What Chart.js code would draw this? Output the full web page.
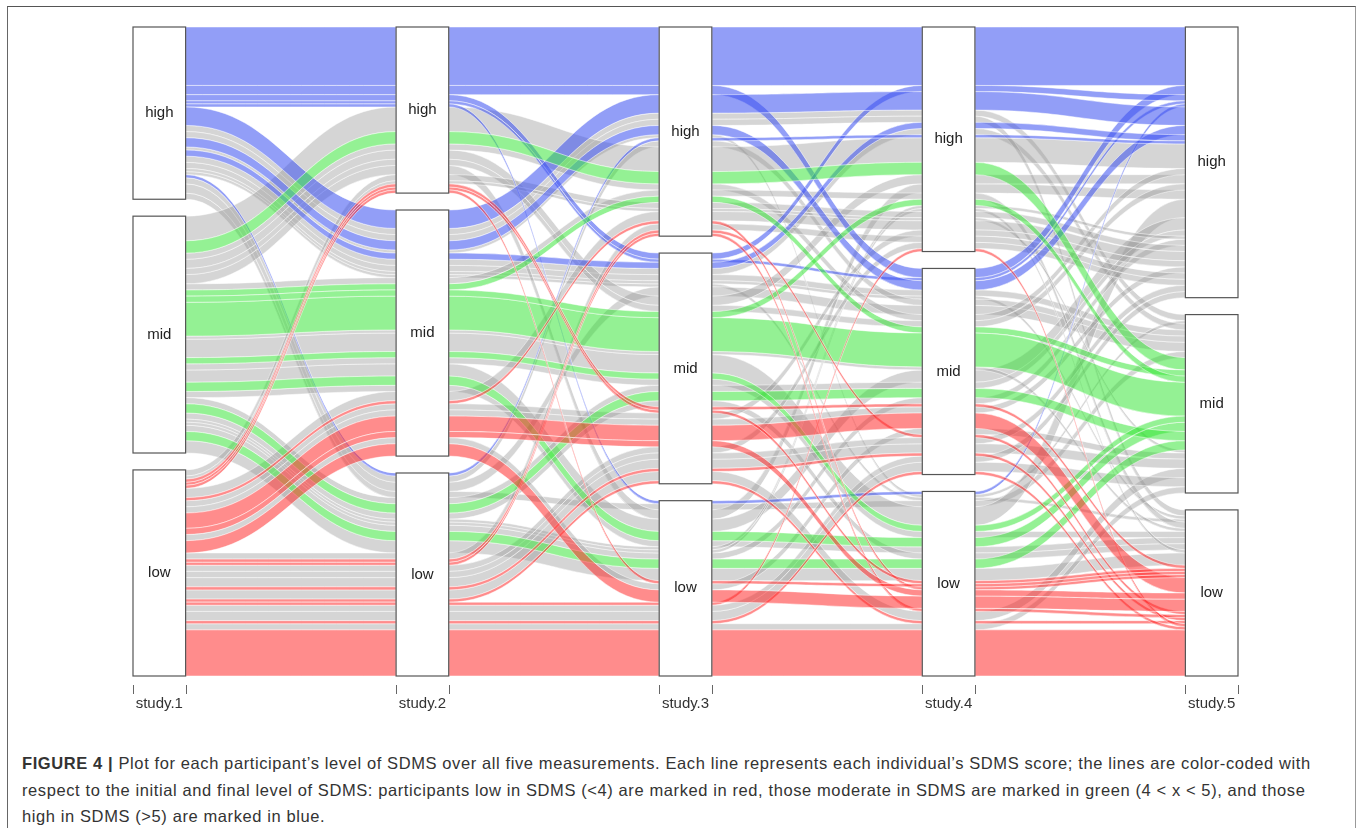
<!DOCTYPE html>
<html>
<head>
<meta charset="utf-8">
<script src="https://cdn.jsdelivr.net/npm/chart.js@4.4.1/dist/chart.umd.min.js"></script>
<style>
    html, body { margin: 0; padding: 0; background: #fff; }
    #frame { position: absolute; left: 7px; top: 6px; width: 1349px; height: 822px; box-sizing: border-box;
             border-top: 1.5px solid #555; border-left: 1.5px solid #666; border-right: 1.5px solid #999; }
    #wrap { position: absolute; left: 0; top: 0; width: 1357px; height: 740px; }
    #caption { position: absolute; left: 22px; top: 750px; font-family: 'Liberation Sans', Arial, sans-serif;
               font-size: 16.5px; letter-spacing: 0.6px; line-height: 26.5px; color: #333; }
    #caption div { white-space: nowrap; }
</style>
</head>
<body>
<div id="frame"></div>
<div id="wrap"><canvas id="alluvialChart"></canvas></div>
<div id="caption">
    <div><b>FIGURE 4 |</b> Plot for each participant’s level of SDMS over all five measurements. Each line represents each individual’s SDMS score; the lines are color-coded with</div>
    <div>respect to the initial and final level of SDMS: participants low in SDMS (&lt;4) are marked in red, those moderate in SDMS are marked in green (4 &lt; x &lt; 5), and those</div>
    <div>high in SDMS (&gt;5) are marked in blue.</div>
</div>
<script>
// axes and strata
const studies = ['study.1', 'study.2', 'study.3', 'study.4', 'study.5'];
const levels = { H: 'high', M: 'mid', L: 'low' };

// each alluvium: level at study.1..study.5 (H/M/L) and number of participants
const paths = [
    // high -> high (blue)
    'HHHHH', 'HHHMH', 'HHMHH', 'HHMMH', 'HHLLH', 'HMHHH', 'HMHMH', 'HMMHH', 'HLHHH',
    // mid -> mid (green)
    'MHHHM', 'MMHMM', 'MMMMM', 'MMMHM', 'MMLLM', 'MLLLM', 'MLMMM', 'MMMLM',
    // low -> low (red)
    'LLLLL', 'LLMLL', 'LLLML', 'LLMML', 'LLHLL', 'LLLHL', 'LLHML', 'LMMML', 'LMLLL', 'LMHLL', 'LMMLL', 'LHMLL', 'LHLLL', 'LHMML',
    // changed (grey)
    'HMMMM', 'HMHHM', 'HMHLM', 'HMMHM', 'HMMLL', 'HMHHL', 'HMMML', 'HLLLM', 'HLMMM', 'HLHMM',
    'MHHHH', 'MHLHH', 'MHMHH', 'MHHMH', 'MHMMH', 'MMMLH', 'MMLMH', 'MMMML', 'MMMLL', 'MMLLL', 'MMHHL',
    'MLLLL', 'MLMMH', 'MLLMH', 'MLMLL', 'MLLHH', 'MLLHL',
    'LHHHH', 'LHHHM', 'LMHHH', 'LMMHH', 'LMMMH', 'LMLMM', 'LLMMM', 'LLMLM', 'LLLMM', 'LLMHH', 'LLLLM', 'LLHHH', 'LLLMH', 'LLMMH'
];
const counts = [
    19, 3, 2, 1, 1, 6, 3, 2, 1,
    4, 2, 11, 2, 3, 3, 3, 2,
    15, 1, 1, 1, 1, 1, 1, 5, 4, 1, 2, 1, 1, 1,
    2, 2, 1, 2, 1, 2, 1, 2, 3, 2,
    8, 3, 3, 2, 2, 6, 4, 1, 2, 2, 2,
    4, 2, 2, 2, 1, 1,
    2, 1, 3, 2, 2, 2, 3, 3, 3, 2, 2, 2, 2, 2
];

const rank = { H: 0, M: 1, L: 2 };
const gap = 5.5;
const total = counts.reduce((a, b) => a + b, 0);

function flowColor(p) {
    if (p[0] !== p[p.length - 1]) return 'rgba(150,150,150,0.40)';
    return { H: 'rgba(60,82,240,0.56)', M: 'rgba(50,228,50,0.52)', L: 'rgba(255,35,35,0.52)' }[p[0]];
}

// stack alluvia on every axis: by level here, then by the other axes in order
const pos = paths.map(() => []);
const strata = [];
studies.forEach((s, i) => {
    const keys = [i, ...studies.map((_, k) => k).filter(k => k !== i)];
    const order = paths.map((_, k) => k).sort((a, b) => {
        for (const k of keys) {
            const d = rank[paths[a][k]] - rank[paths[b][k]];
            if (d) return d;
        }
        return 0;
    });
    let y = 0, cur = null;
    const st = [];
    order.forEach(k => {
        const l = paths[k][i];
        if (l !== cur) {
            if (cur !== null) { st[st.length - 1].end = y; y += gap; }
            st.push({ level: l, start: y });
            cur = l;
        }
        pos[k][i] = [y, y + counts[k]];
        y += counts[k];
    });
    st[st.length - 1].end = y;
    strata.push(st);
});

const alluvialPlugin = {
    id: 'alluvial',
    beforeDatasetsDraw(chart) {
        const ctx = chart.ctx;
        const xs = chart.scales.x, ys = chart.scales.y;
        const Y = v => ys.getPixelForValue(v);
        const drawOrder = paths.map((_, k) => k).sort((a, b) => {
            const ga = paths[a][0] !== paths[a][4] ? 0 : 1;
            const gb = paths[b][0] !== paths[b][4] ? 0 : 1;
            return ga - gb;
        });
        ctx.save();
        drawOrder.forEach(k => {
            ctx.fillStyle = flowColor(paths[k]);
            ctx.strokeStyle = 'rgba(255,255,255,0.55)';
            ctx.lineWidth = 0.9;
            for (let i = 0; i < studies.length - 1; i++) {
                const x0 = xs.getPixelForValue(i + 0.1), x1 = xs.getPixelForValue(i + 0.9);
                const [a0, a1] = pos[k][i];
                const [b0, b1] = pos[k][i + 1];
                const c = (x1 - x0) * 0.45;
                ctx.beginPath();
                ctx.moveTo(x0, Y(a0));
                ctx.bezierCurveTo(x0 + c, Y(a0), x1 - c, Y(b0), x1, Y(b0));
                ctx.lineTo(x1, Y(b1));
                ctx.bezierCurveTo(x1 - c, Y(b1), x0 + c, Y(a1), x0, Y(a1));
                ctx.closePath();
                ctx.fill();
                ctx.stroke();
            }
        });

        // strata boxes
        ctx.font = '15px "Liberation Sans", Arial, sans-serif';
        ctx.textAlign = 'center';
        ctx.textBaseline = 'middle';
        strata.forEach((st, i) => {
            const xl = xs.getPixelForValue(i - 0.1), xr = xs.getPixelForValue(i + 0.1);
            st.forEach(b => {
                ctx.fillStyle = '#fff';
                ctx.fillRect(xl, Y(b.start), xr - xl, Y(b.end) - Y(b.start));
                ctx.strokeStyle = '#555';
                ctx.lineWidth = 1.2;
                ctx.strokeRect(xl, Y(b.start), xr - xl, Y(b.end) - Y(b.start));
                ctx.fillStyle = '#222';
                ctx.fillText(levels[b.level], (xl + xr) / 2, (Y(b.start) + Y(b.end)) / 2);
            });
            // axis ticks at the box edges
            ctx.strokeStyle = '#666';
            ctx.lineWidth = 1;
            const yb = chart.chartArea.bottom;
            [xl, xr].forEach(x => {
                ctx.beginPath();
                ctx.moveTo(Math.round(x) + 0.5, yb + 9);
                ctx.lineTo(Math.round(x) + 0.5, yb + 18);
                ctx.stroke();
            });
        });
        ctx.restore();
    }
};

new Chart(document.getElementById('alluvialChart').getContext('2d'), {
    type: 'scatter',
    data: { datasets: [] },
    options: {
        responsive: true,
        maintainAspectRatio: false,
        animation: false,
        layout: { padding: { left: 133, right: 119, top: 27, bottom: 8 } },
        plugins: { legend: { display: false }, tooltip: { enabled: false } },
        scales: {
            x: {
                type: 'linear',
                min: -0.1,
                max: 4.1,
                afterBuildTicks: scale => { scale.ticks = studies.map((_, i) => ({ value: i })); },
                grid: { display: false, drawTicks: false },
                border: { display: false },
                ticks: {
                    padding: 19,
                    color: '#333',
                    font: { family: '"Liberation Sans", Arial, sans-serif', size: 15 },
                    callback: value => studies[value]
                }
            },
            y: {
                type: 'linear',
                display: false,
                reverse: true,
                min: 0,
                max: total + 2 * gap
            }
        }
    },
    plugins: [alluvialPlugin]
});
</script>
</body>
</html>
